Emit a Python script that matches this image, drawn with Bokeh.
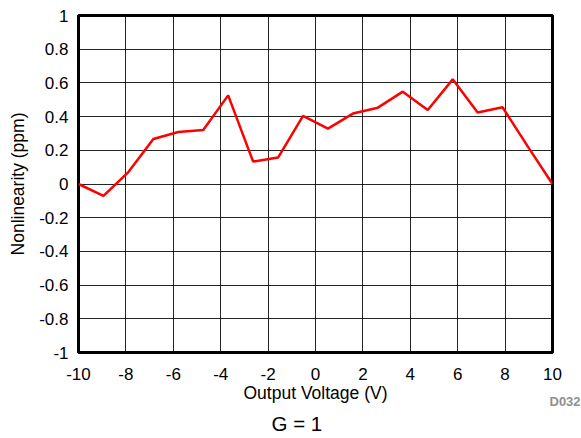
from bokeh.plotting import figure
from bokeh.models import Range1d, FixedTicker, Title, CustomJSTickFormatter
from bokeh.embed import file_html
from bokeh.resources import INLINE

# Data
x_start = -10.0
x_step = 20.0 / 19.0
nonlinearity = [0.0, -0.071, 0.071, 0.267, 0.309, 0.320, 0.526, 0.133, 0.157, 0.404,
                0.329, 0.418, 0.453, 0.548, 0.439, 0.621, 0.424, 0.455, 0.225, 0.0]
voltage = [x_start + i * x_step for i in range(len(nonlinearity))]
x_ticks = [-10, -8, -6, -4, -2, 0, 2, 4, 6, 8, 10]
y_ticks = [-1, -0.8, -0.6, -0.4, -0.2, 0, 0.2, 0.4, 0.6, 0.8, 1]

FONT = "Liberation Sans"

p = figure(width=581, height=438, output_backend="svg", toolbar_location=None,
           x_range=Range1d(-10, 10), y_range=Range1d(-1, 1),
           min_border_left=78, min_border_right=29, min_border_top=15, min_border_bottom=10)
p.background_fill_color = "white"
p.border_fill_color = "white"
p.outline_line_color = "black"
p.outline_line_width = 3

p.line(voltage, nonlinearity, line_color="#ff0000", line_width=2.5)

p.xaxis.ticker = FixedTicker(ticks=x_ticks)
p.yaxis.ticker = FixedTicker(ticks=y_ticks)
p.yaxis.formatter = CustomJSTickFormatter(code="return (Math.round(tick*10)/10).toString();")
p.xaxis.formatter = CustomJSTickFormatter(code="return tick.toString();")

for ax in (p.xaxis, p.yaxis):
    ax.axis_line_color = None
    ax.major_tick_line_color = None
    ax.minor_tick_line_color = None
    ax.major_tick_in = 0
    ax.major_tick_out = 0
    ax.major_label_text_font = FONT
    ax.major_label_text_font_size = "17px"
    ax.major_label_text_color = "black"
    ax.axis_label_text_font = FONT
    ax.axis_label_text_font_size = "17.5px"
    ax.axis_label_text_font_style = "normal"
    ax.axis_label_text_color = "black"

p.xaxis.axis_label = "Output Voltage (V)"
p.yaxis.axis_label = "Nonlinearity (ppm)"
p.xaxis.major_label_standoff = 15
p.yaxis.major_label_standoff = 10
p.xaxis.axis_label_standoff = 0
p.yaxis.axis_label_standoff = 8

p.xgrid.grid_line_color = "black"
p.ygrid.grid_line_color = "black"
p.xgrid.grid_line_width = 1
p.ygrid.grid_line_width = 1
p.xgrid.grid_line_alpha = 0.85
p.ygrid.grid_line_alpha = 0.85

p.add_layout(Title(text="D032", align="left", offset=471, standoff=-24,
                   vertical_align="top",
                   text_font=FONT, text_font_size="13px", text_color="#909090",
                   text_font_style="bold"), "below")
p.add_layout(Title(text="G = 1", align="left", offset=193, standoff=8,
                   text_font=FONT, text_font_size="20.5px", text_color="black",
                   text_font_style="normal"), "below")

open("out.html", "w").write(file_html(p, INLINE))
